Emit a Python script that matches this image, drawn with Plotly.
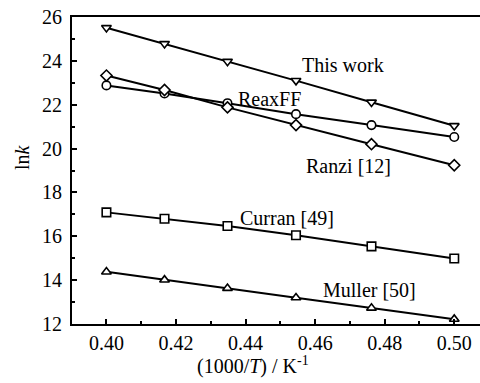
import plotly.graph_objects as go

x_vals = [0.4000, 0.4167, 0.4348, 0.4545, 0.4762, 0.5000]
this_work = [25.51, 24.78, 23.97, 23.10, 22.11, 21.04]
reaxff = [22.88, 22.51, 22.07, 21.57, 21.07, 20.53]
ranzi = [23.33, 22.67, 21.88, 21.07, 20.20, 19.24]
curran = [17.09, 16.80, 16.47, 16.05, 15.54, 14.99]
muller = [14.38, 14.01, 13.63, 13.20, 12.73, 12.22]

series = [
    ("This work", this_work, "triangle-down"),
    ("ReaxFF", reaxff, "circle"),
    ("Ranzi [12]", ranzi, "diamond"),
    ("Curran [49]", curran, "square"),
    ("Muller [50]", muller, "triangle-up"),
]

labels = [
    ("This work", 0.4680, 23.82),
    ("ReaxFF", 0.4470, 22.26),
    ("Ranzi [12]", 0.4697, 19.22),
    ("Curran [49]", 0.4519, 16.84),
    ("Muller [50]", 0.4755, 13.57),
]

FONT = "Times New Roman"

fig = go.Figure()
for name, ys, sym in series:
    fig.add_trace(go.Scatter(
        x=x_vals, y=ys, mode="lines+markers", name=name,
        line=dict(color="black", width=2),
        marker=dict(symbol=sym, size=8.5, color="white",
                    line=dict(color="black", width=1.6)),
        showlegend=False,
    ))

for text, lx, ly in labels:
    fig.add_annotation(x=lx, y=ly, text=text, showarrow=False,
                       font=dict(family=FONT, size=20, color="black"),
                       xanchor="center", yanchor="middle")

fig.add_annotation(xref="paper", yref="paper", x=(253 - 72) / 408, y=-(365 - 324) / 307,
                   text="(1000/<i>T</i>) / K<sup>-1</sup>", showarrow=False,
                   font=dict(family=FONT, size=20, color="black"),
                   xanchor="center", yanchor="middle")
fig.add_annotation(xref="paper", yref="paper", x=-(72 - 22) / 408, y=(324 - 157) / 307,
                   text="ln<i>k</i>", showarrow=False, textangle=-90,
                   font=dict(family=FONT, size=20, color="black"),
                   xanchor="center", yanchor="middle")

fig.update_layout(
    width=480, height=383,
    margin=dict(l=72, r=0, t=17, b=59),
    paper_bgcolor="white", plot_bgcolor="white",
    font=dict(family=FONT, size=20, color="black"),
    xaxis=dict(range=[0.3901, 0.5074], tickvals=[0.40, 0.42, 0.44, 0.46, 0.48, 0.50],
               ticktext=["0.40", "0.42", "0.44", "0.46", "0.48", "0.50"],
               tickfont=dict(family=FONT, size=20, color="black"),
               ticks="inside", ticklen=5, tickwidth=1.5, tickcolor="black",
               minor=dict(tickvals=[0.41, 0.43, 0.45, 0.47, 0.49], ticks="inside",
                          ticklen=3, tickwidth=1.5, tickcolor="black"),
               showline=True, linecolor="black", linewidth=2, mirror=True,
               showgrid=False, zeroline=False),
    yaxis=dict(range=[12, 26], tickvals=[12, 14, 16, 18, 20, 22, 24, 26],
               tickfont=dict(family=FONT, size=20, color="black"),
               ticklabelstandoff=4,
               ticks="inside", ticklen=5, tickwidth=1.5, tickcolor="black",
               minor=dict(tickvals=[13, 15, 17, 19, 21, 23, 25], ticks="inside",
                          ticklen=3, tickwidth=1.5, tickcolor="black"),
               showline=True, linecolor="black", linewidth=2,
               showgrid=False, zeroline=False),
)

fig.write_html("out.html")
